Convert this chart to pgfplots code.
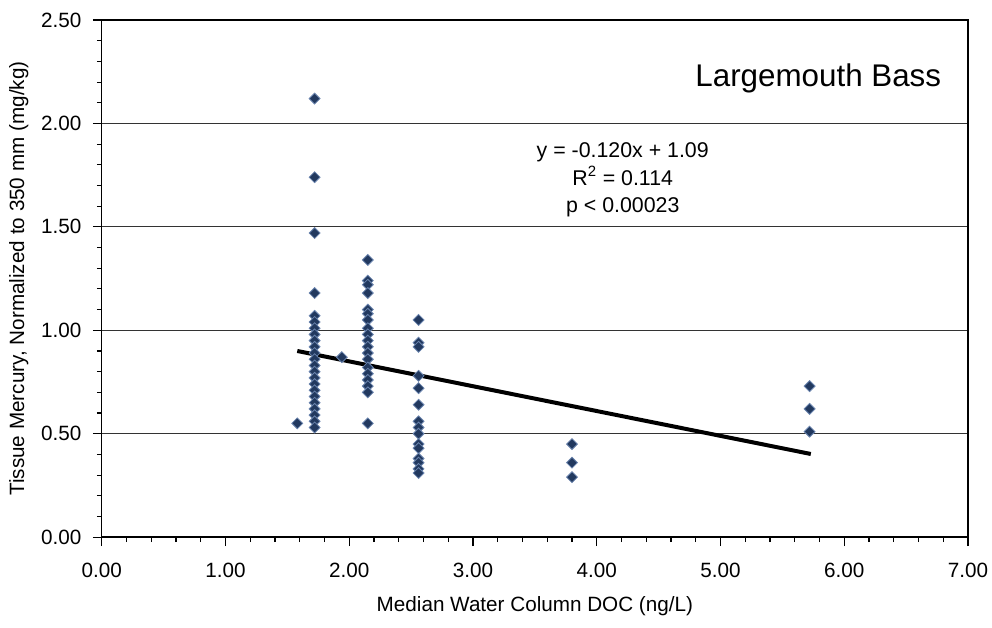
\documentclass[border=0pt]{standalone}
\usepackage{pgfplots}
\pgfplotsset{compat=1.18}
\usepackage{fontspec}
\setmainfont{Liberation Sans}
\definecolor{mk}{HTML}{22395F}
\definecolor{mkedge}{HTML}{6A84AE}

\pgfplotstableread{
x y
1.58 0.55
1.72 2.12
1.72 1.74
1.72 1.47
1.72 1.18
1.72 1.07
1.72 1.04
1.72 1.01
1.72 0.98
1.72 0.95
1.72 0.92
1.72 0.89
1.72 0.86
1.72 0.83
1.72 0.80
1.72 0.77
1.72 0.74
1.72 0.71
1.72 0.68
1.72 0.65
1.72 0.62
1.72 0.59
1.72 0.56
1.72 0.53
1.94 0.87
2.15 1.34
2.15 1.24
2.15 1.22
2.15 1.18
2.15 1.10
2.15 1.08
2.15 1.05
2.15 1.01
2.15 0.98
2.15 0.95
2.15 0.92
2.15 0.89
2.15 0.86
2.15 0.82
2.15 0.79
2.15 0.76
2.15 0.73
2.15 0.70
2.15 0.55
2.56 1.05
2.56 0.94
2.56 0.92
2.56 0.78
2.56 0.72
2.56 0.64
2.56 0.56
2.56 0.53
2.56 0.50
2.56 0.45
2.56 0.43
2.56 0.38
2.56 0.36
2.56 0.33
2.56 0.31
3.80 0.45
3.80 0.36
3.80 0.29
5.72 0.73
5.72 0.62
5.72 0.51
}\fishdata

\begin{document}
\begin{tikzpicture}
\path[use as bounding box] (-76.3pt,-67.5pt) rectangle (667.5pt,402.75pt);
\begin{axis}[
  scale only axis, width=649.5pt, height=387.75pt,
  at={(0pt,0pt)}, anchor=south west,
  xmin=0, xmax=7, ymin=0, ymax=2.5,
  xtick={0,1,2,3,4,5,6,7}, ytick={0,0.5,1,1.5,2,2.5},
  minor x tick num=4, minor y tick num=4,
  tick pos=left, tick align=outside,
  major tick length=6.75pt, minor tick length=3.75pt,
  tick style={black, line width=0.8pt},
  ymajorgrids, grid style={black!80, line width=0.7pt},
  axis line style={line width=1pt},
  clip=false,
  /pgf/number format/fixed, /pgf/number format/fixed zerofill,
  /pgf/number format/precision=2, /pgf/number format/assume math mode=true,
  tick label style={font=\fontsize{15.5}{18}\selectfont},
  yticklabel style={xshift=-5pt},
  xticklabel style={yshift=-9pt},
  label style={font=\fontsize{15.5}{18}\selectfont},
  xlabel={Median Water Column DOC (ng/L)},
  ylabel={Tissue Mercury, Normalized to 350 mm (mg/kg)},
  xlabel style={at={(axis description cs:0.5,-0.1335)}, anchor=center},
  ylabel style={at={(axis description cs:-0.0958,0.5)}, anchor=center, rotate=0},
]
\addplot[only marks, mark=square*, mark size=2.9pt,
  mark options={rotate=45, fill=mk, draw=mkedge, line width=0.6pt}]
  table[x=x, y=y] {\fishdata};
\addplot[black, line width=3pt] coordinates {(1.58,0.900) (5.73,0.402)};
\node[font=\fontsize{23.5}{28}\selectfont, anchor=base] at (axis cs:5.79,2.18) {Largemouth Bass};
\node[font=\fontsize{16}{20}\selectfont, anchor=base] at (axis cs:4.21,1.837) {y = -0.120x + 1.09};
\node[font=\fontsize{16}{20}\selectfont, anchor=base] at (axis cs:4.21,1.701) {R\textsuperscript{2} = 0.114};
\node[font=\fontsize{16}{20}\selectfont, anchor=base] at (axis cs:4.21,1.571) {p < 0.00023};
\end{axis}
\end{tikzpicture}
\end{document}
